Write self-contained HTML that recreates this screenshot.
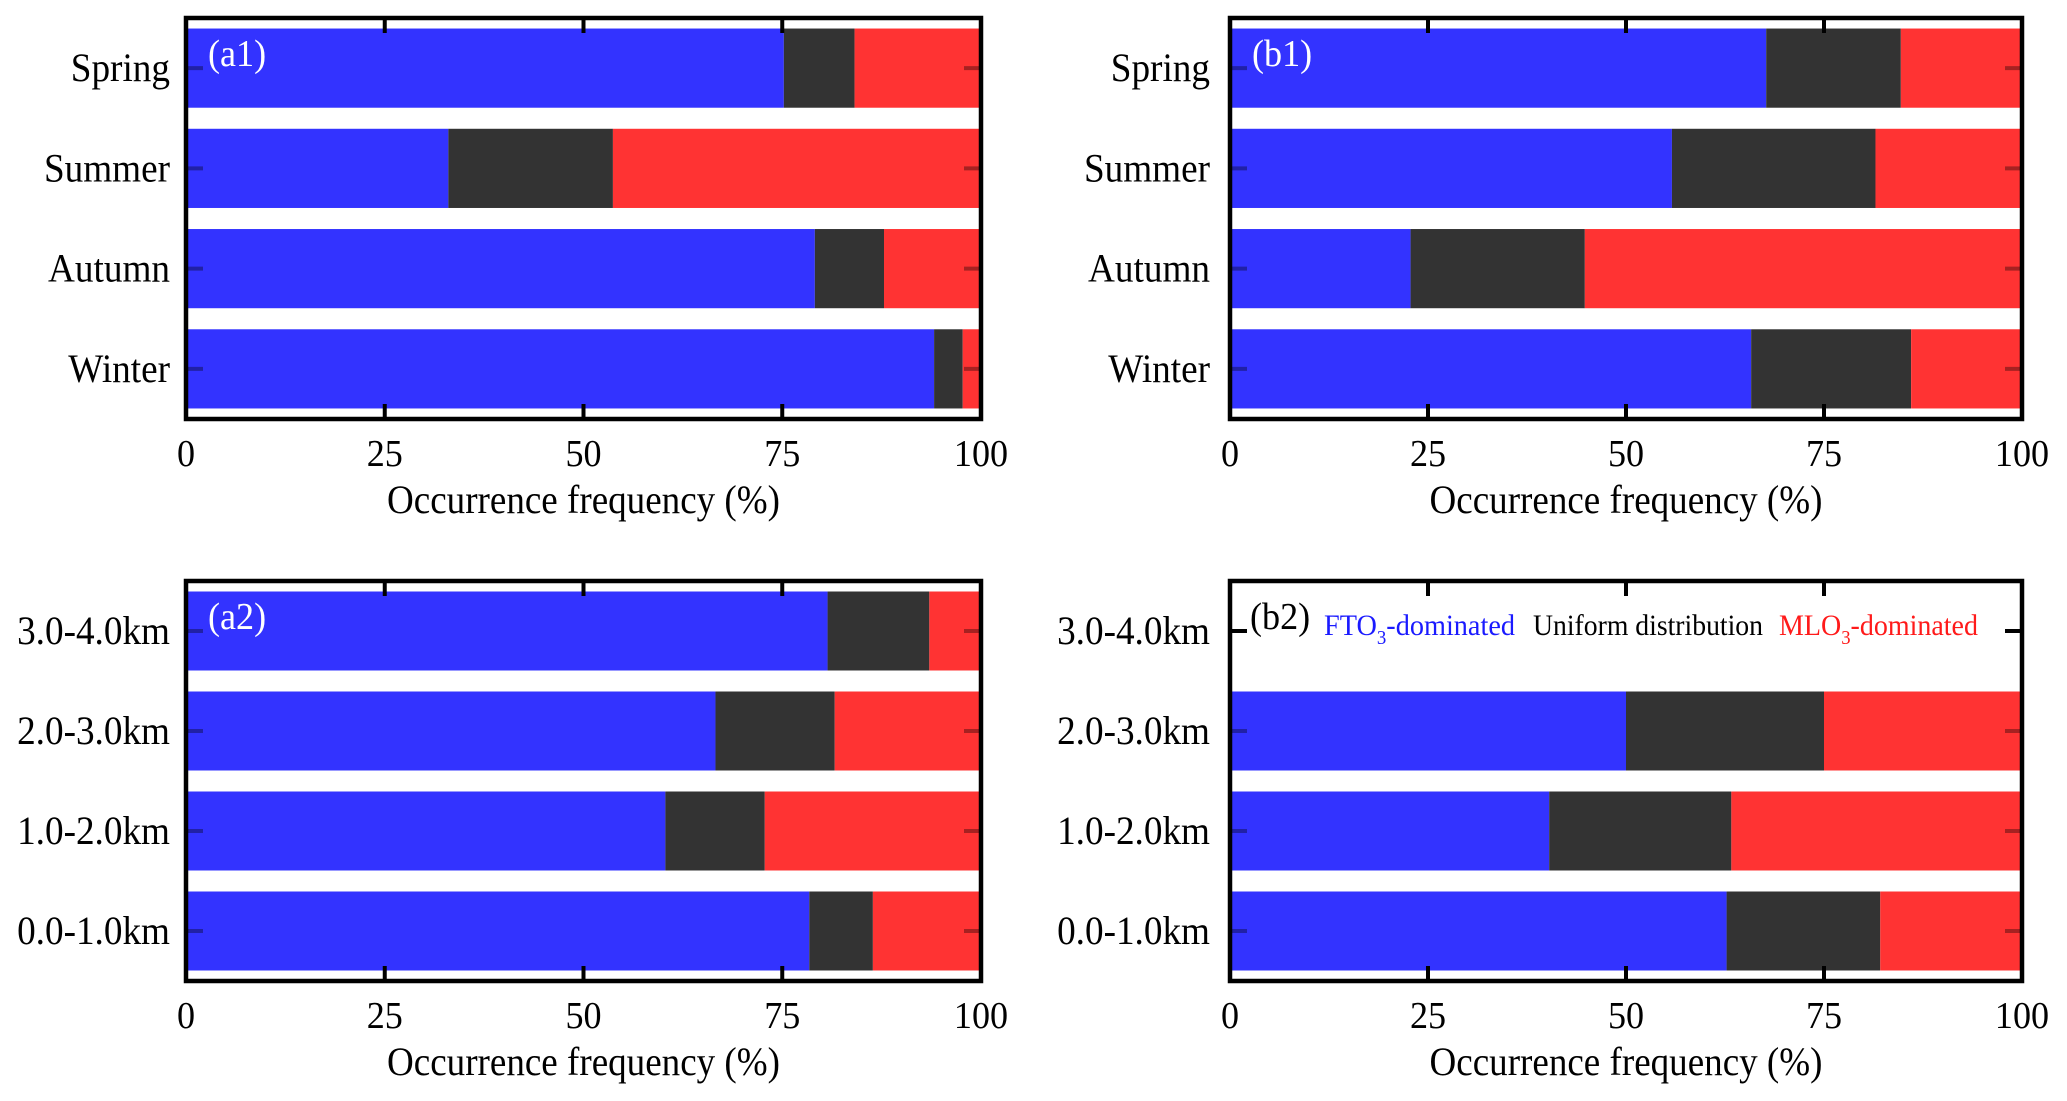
<!DOCTYPE html>
<html><head><meta charset="utf-8"><style>
html,body{margin:0;padding:0;background:#fff;}
svg{display:block;font-family:"Liberation Serif",serif;}
</style></head><body>
<svg id="fig" width="2067" height="1101" viewBox="0 0 2067 1101" xmlns="http://www.w3.org/2000/svg">
<g id="a1"></g>
<g id="b1"></g>
<g id="a2"></g>
<g id="b2"></g>
<g font-size="30">
<text x="1324" y="635" fill="#1a1aff" textLength="191" lengthAdjust="spacingAndGlyphs">FTO<tspan font-size="20" dy="9">3</tspan><tspan dy="-9">-dominated</tspan></text>
<text x="1533" y="635" fill="#000" textLength="230" lengthAdjust="spacingAndGlyphs">Uniform distribution</text>
<text x="1779" y="635" fill="#ff1a1a" textLength="199" lengthAdjust="spacingAndGlyphs">MLO<tspan font-size="20" dy="9">3</tspan><tspan dy="-9">-dominated</tspan></text>
</g>
</svg>
<script>
const seasonCats = ['Spring','Summer','Autumn','Winter'];
const heightCats = ['3.0-4.0km','2.0-3.0km','1.0-2.0km','0.0-1.0km'];
const xTicks = [0,25,50,75,100];
const a1Blue = [75.2,33.0,79.1,94.1];
const a1Dark = [8.9,20.7,8.7,3.6];
const b1Blue = [67.7,55.8,22.8,65.8];
const b1Dark = [17.0,25.7,22.0,20.2];
const a2Blue = [80.7,66.6,60.3,78.4];
const a2Dark = [12.8,15.0,12.5,8.0];
const b2Blue = [null,50.0,40.3,62.7];
const b2Dark = [null,25.0,23.0,19.4];

const NS='http://www.w3.org/2000/svg';
function mk(parent,tag,attrs){const e=document.createElementNS(NS,tag);for(const k in attrs)e.setAttribute(k,attrs[k]);parent.appendChild(e);return e;}
function squeeze(t,f){const L=t.getComputedTextLength();t.setAttribute('textLength',L*f);t.setAttribute('lengthAdjust','spacingAndGlyphs');}

function panel(id,x0,x1,y0,y1,cats,blue,dark,label,labelColor,labelX,labelRight){
  const g=document.getElementById(id);
  const sx=v=>x0+(x1-x0)*v/100;
  const band=(y1-y0)/cats.length;
  const bh=band*0.79;
  const yc=i=>y0+band*(i+0.5);
  cats.forEach((c,i)=>{
    const b=blue[i], d=dark[i];
    if(b!==null){
      const top=yc(i)-bh/2;
      let r=mk(g,'rect',{x:sx(0),y:top,width:sx(b)-sx(0),height:bh,fill:'#3333ff'});
      
      
      r=mk(g,'rect',{x:sx(b),y:top,width:sx(b+d)-sx(b),height:bh,fill:'#333333'});
      
      
      r=mk(g,'rect',{x:sx(b+d),y:top,width:sx(100)-sx(b+d),height:bh,fill:'#ff3333'});
      
      
    }
    mk(g,'line',{x1:x0,x2:x0+17,y1:yc(i),y2:yc(i),stroke:'#000','stroke-width':4,'stroke-opacity':b===null?1:0.35});
    mk(g,'line',{x1:x1-17,x2:x1,y1:yc(i),y2:yc(i),stroke:'#000','stroke-width':4,'stroke-opacity':b===null?1:0.35});
    const t=mk(g,'text',{x:labelRight,y:yc(i)+13,'text-anchor':'end','font-size':40});
    t.textContent=c;
    
    
    squeeze(t,0.93);
  });
  xTicks.forEach(v=>{
    if(v>0&&v<100){
      mk(g,'line',{x1:sx(v),x2:sx(v),y1:y0,y2:y0+15,stroke:'#000','stroke-width':4});
      mk(g,'line',{x1:sx(v),x2:sx(v),y1:y1-15,y2:y1,stroke:'#000','stroke-width':4});
    }
    const t=mk(g,'text',{x:sx(v),y:y1+47,'text-anchor':'middle','font-size':38});
    t.textContent=v;
    
    
    squeeze(t,0.95);
  });
  const fr=mk(g,'rect',{x:x0,y:y0,width:x1-x0,height:y1-y0,fill:'none',stroke:'#000','stroke-width':4.5});
  
  
  const tt=mk(g,'text',{x:(x0+x1)/2,y:y1+94,'text-anchor':'middle','font-size':40,textLength:393,lengthAdjust:'spacingAndGlyphs'});
  tt.textContent='Occurrence frequency (%)';
  
  
  const pl=mk(g,'text',{x:labelX,y:y0+48,'font-size':38,fill:labelColor});
  pl.textContent=label;
  
  
  squeeze(pl,0.95);
}
panel('a1',186,981,18,419,seasonCats,a1Blue,a1Dark,'(a1)','#fff',208,170);
panel('b1',1230,2022,18,419,seasonCats,b1Blue,b1Dark,'(b1)','#fff',1252,1210);
panel('a2',186,981,581,981,heightCats,a2Blue,a2Dark,'(a2)','#fff',208,170);
panel('b2',1230,2022,581,981,heightCats,b2Blue,b2Dark,'(b2)','#000',1250,1210);
</script>
</body></html>
